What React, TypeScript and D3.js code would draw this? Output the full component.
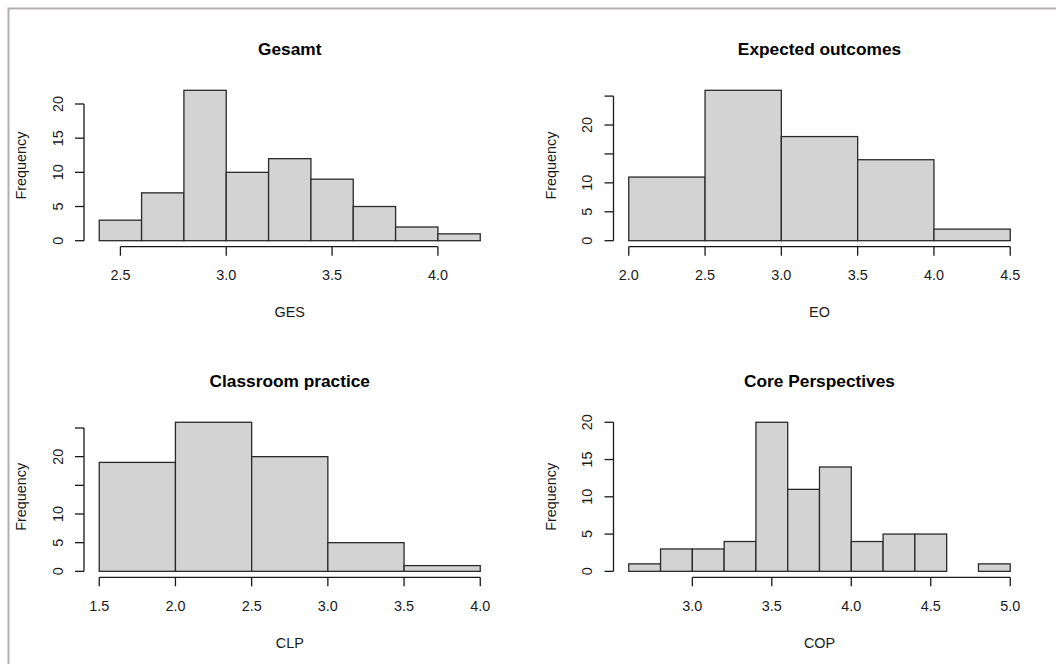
import React, { useRef, useEffect } from "react";
import * as d3 from "d3";

// histogram data (breaks + counts per panel)
const gesBreaks = [2.4, 2.6, 2.8, 3.0, 3.2, 3.4, 3.6, 3.8, 4.0, 4.2];
const gesCounts = [3, 7, 22, 10, 12, 9, 5, 2, 1];
const gesXTicks = [2.5, 3.0, 3.5, 4.0];
const gesYTicks = [0, 5, 10, 15, 20];
const gesYLabels = ["0", "5", "10", "15", "20"];

const eoBreaks = [2.0, 2.5, 3.0, 3.5, 4.0, 4.5];
const eoCounts = [11, 26, 18, 14, 2];
const eoXTicks = [2.0, 2.5, 3.0, 3.5, 4.0, 4.5];
const eoYTicks = [0, 5, 10, 15, 20, 25];
const eoYLabels = ["0", "5", "10", "", "20", ""];

const clpBreaks = [1.5, 2.0, 2.5, 3.0, 3.5, 4.0];
const clpCounts = [19, 26, 20, 5, 1];
const clpXTicks = [1.5, 2.0, 2.5, 3.0, 3.5, 4.0];
const clpYTicks = [0, 5, 10, 15, 20, 25];
const clpYLabels = ["0", "5", "10", "", "20", ""];

const copBreaks = [2.6, 2.8, 3.0, 3.2, 3.4, 3.6, 3.8, 4.0, 4.2, 4.4, 4.6, 4.8, 5.0];
const copCounts = [1, 3, 3, 4, 20, 11, 14, 4, 5, 5, 0, 1];
const copXTicks = [3.0, 3.5, 4.0, 4.5, 5.0];
const copYTicks = [0, 5, 10, 15, 20];
const copYLabels = ["0", "5", "10", "15", "20"];

const panels = [
    { title: "Gesamt", xlab: "GES", breaks: gesBreaks, counts: gesCounts, xTicks: gesXTicks, yTicks: gesYTicks, yLabels: gesYLabels, col: 0, row: 0 },
    { title: "Expected outcomes", xlab: "EO", breaks: eoBreaks, counts: eoCounts, xTicks: eoXTicks, yTicks: eoYTicks, yLabels: eoYLabels, col: 1, row: 0 },
    { title: "Classroom practice", xlab: "CLP", breaks: clpBreaks, counts: clpCounts, xTicks: clpXTicks, yTicks: clpYTicks, yLabels: clpYLabels, col: 0, row: 1 },
    { title: "Core Perspectives", xlab: "COP", breaks: copBreaks, counts: copCounts, xTicks: copXTicks, yTicks: copYTicks, yLabels: copYLabels, col: 1, row: 1 },
];

const width = 1056;
const height = 664;
// plot regions (R style, 4% padding on both axes)
const cols = [
    [84, 495.5],
    [613.5, 1025.5],
];
const rows = [
    [84.3, 246.7],
    [416.3, 577.3],
];
const font = "'Liberation Sans', Arial, sans-serif";
const axisSize = 14.4;
const titleSize = 17.3;
const tickLen = 9;
const ink = "#1a1a1a";

function drawPanel(svg, p) {
    const [x0, x1] = cols[p.col];
    const [y0, y1] = rows[p.row];
    const lo = p.breaks[0];
    const hi = p.breaks[p.breaks.length - 1];
    const padX = (hi - lo) * 0.04;
    const maxY = d3.max(p.counts);
    const x = d3.scaleLinear().domain([lo - padX, hi + padX]).range([x0, x1]);
    const y = d3.scaleLinear().domain([-maxY * 0.04, maxY * 1.04]).range([y1, y0]);

    const g = svg.append("g");

    // bars
    g.append("g")
        .selectAll("rect")
        .data(p.counts.map((c, i) => ({ c, a: p.breaks[i], b: p.breaks[i + 1] })))
        .enter()
        .append("rect")
        .attr("x", (d) => x(d.a))
        .attr("width", (d) => x(d.b) - x(d.a))
        .attr("y", (d) => y(d.c))
        .attr("height", (d) => y(0) - y(d.c))
        .attr("fill", "#d3d3d3")
        .attr("stroke", "#2a2a2a")
        .attr("stroke-width", 1.3);

    // x axis
    const xa = g.append("g").attr("stroke", ink).attr("stroke-width", 1.3).attr("fill", "none");
    xa.append("line")
        .attr("x1", x(p.xTicks[0]))
        .attr("x2", x(p.xTicks[p.xTicks.length - 1]))
        .attr("y1", y1)
        .attr("y2", y1);
    xa.selectAll("line.tick")
        .data(p.xTicks)
        .enter()
        .append("line")
        .attr("class", "tick")
        .attr("x1", (d) => x(d))
        .attr("x2", (d) => x(d))
        .attr("y1", y1)
        .attr("y2", y1 + tickLen);
    g.append("g")
        .selectAll("text")
        .data(p.xTicks)
        .enter()
        .append("text")
        .attr("x", (d) => x(d))
        .attr("y", y1 + 28.5)
        .attr("text-anchor", "middle")
        .attr("dominant-baseline", "central")
        .attr("font-size", axisSize)
        .attr("fill", ink)
        .text((d) => d3.format(".1f")(d));

    // y axis
    const ya = g.append("g").attr("stroke", ink).attr("stroke-width", 1.3).attr("fill", "none");
    ya.append("line")
        .attr("x1", x0)
        .attr("x2", x0)
        .attr("y1", y(p.yTicks[0]))
        .attr("y2", y(p.yTicks[p.yTicks.length - 1]));
    ya.selectAll("line.tick")
        .data(p.yTicks)
        .enter()
        .append("line")
        .attr("class", "tick")
        .attr("x1", x0)
        .attr("x2", x0 - tickLen)
        .attr("y1", (d) => y(d))
        .attr("y2", (d) => y(d));
    g.append("g")
        .selectAll("text")
        .data(p.yTicks)
        .enter()
        .append("text")
        .attr("transform", (d, i) => `translate(${x0 - 26.5},${y(d)}) rotate(-90)`)
        .attr("text-anchor", "middle")
        .attr("dominant-baseline", "central")
        .attr("font-size", axisSize)
        .attr("fill", ink)
        .text((d, i) => p.yLabels[i]);

    // labels
    const cx = (x0 + x1) / 2;
    const cy = (y0 + y1) / 2;
    g.append("text")
        .attr("x", cx)
        .attr("y", y0 - 35.5)
        .attr("text-anchor", "middle")
        .attr("dominant-baseline", "central")
        .attr("font-size", titleSize)
        .attr("font-weight", "bold")
        .attr("fill", "#000")
        .text(p.title);
    g.append("text")
        .attr("x", cx)
        .attr("y", y1 + 65.5)
        .attr("text-anchor", "middle")
        .attr("dominant-baseline", "central")
        .attr("font-size", axisSize)
        .attr("fill", ink)
        .text(p.xlab);
    g.append("text")
        .attr("transform", `translate(${x0 - 63},${cy}) rotate(-90)`)
        .attr("text-anchor", "middle")
        .attr("dominant-baseline", "central")
        .attr("font-size", axisSize)
        .attr("fill", ink)
        .text("Frequency");
}

export default function App() {
    const ref = useRef(null);

    useEffect(() => {
        const svg = d3.select(ref.current);
        svg.selectAll("*").remove();
        svg.style("font-family", font);
        svg.append("rect").attr("width", width).attr("height", height).attr("fill", "#fff");
        // frame of the screenshot (only top/left visible)
        svg.append("path")
            .attr("d", `M8.5,${height} V8.5 H${width}`)
            .attr("fill", "none")
            .attr("stroke", "#b3afaf")
            .attr("stroke-width", 2);
        panels.forEach((p) => drawPanel(svg, p));
    }, []);

    return (
        <svg
            ref={ref}
            width={width}
            height={height}
            style={{ position: "absolute", left: 0, top: 0, display: "block" }}
        />
    );
}
